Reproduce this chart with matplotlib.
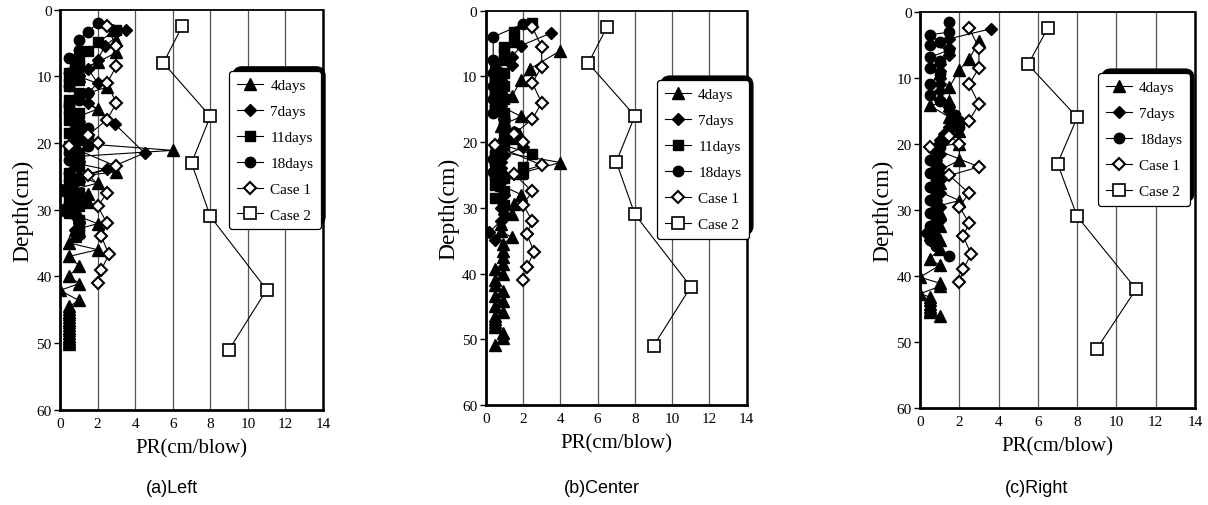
import numpy as np
import matplotlib
matplotlib.use("Agg")
import matplotlib.pyplot as plt
from matplotlib.patches import FancyBboxPatch
from matplotlib.transforms import IdentityTransform

plt.rcParams['font.family'] = ['Liberation Serif', 'DejaVu Serif']

# shared reference curves
case1_pr = [2.5, 3, 3, 2.5, 3, 2.5, 1.5, 2, 0.5, 3, 1.5, 2.5, 2, 2.5, 2.2, 2.6, 2.2, 2]
case1_d = [2.5, 5.5, 8.5, 11, 14, 16.5, 18.8, 20, 20.5, 23.5, 24.8, 27.5, 29.5, 32, 34, 36.7, 39, 41]
case2_pr = [6.5, 5.5, 8, 7, 8, 11, 9]
case2_d = [2.5, 8, 16, 23, 31, 42, 51]

# (a) Left
a_4d_pr = [2.8, 3, 3, 2, 1, 1, 2.5, 1, 2, 1, 0.8, 1, 0.8, 0.8, 6, 1, 0.8, 3, 1, 2, 0.7, 1.5, 1.5, 0.8,
           1, 2, 0.8, 0.8, 0.5, 2, 0.5, 1, 0.5, 1, 0, 1, 0.5, 0.5, 0.5, 0.5, 0.5, 0.5, 0.5, 0.5, 0.5,
           0.5, 0.5, 0.5, 0.5, 0.5, 0.5, 0.5]
a_4d_d = [3, 4.5, 6.4, 7.9, 9, 10, 11.6, 13, 14.9, 16, 17, 18, 19, 20, 21.1, 22, 23, 24.3, 25, 26, 27,
          27.6, 28.9, 30, 31, 32.1, 33, 34, 35, 36, 37, 38.4, 39.9, 41.1, 42.1, 43.6, 44.5, 44.9,
          45.3, 45.7, 46.1, 46.5, 46.9, 47.3, 47.7, 48.1, 48.5, 48.9, 49.3, 49.6, 49.8, 50.1]
a_7d_pr = [3.5, 2.4, 2, 1.5, 2, 1.5, 1.5, 2.9, 4.5, 2.5, 1, 0.8, 0.1, 0.8, 1, 0.1, 0.8, 1, 0.8, 1]
a_7d_d = [3, 5.4, 7.5, 8.9, 11, 12.5, 14, 17.1, 21.5, 23.9, 25, 26, 27, 28, 29, 30, 31, 32, 33, 34]
a_11d_pr = [3, 2, 1.5, 1, 1, 0.5, 1, 0.5, 1, 0.5, 0.5, 1, 0.5, 1, 0.5, 1, 0.5, 1, 1, 1, 0.5, 1, 0.5,
            1, 0.5, 1, 0.5, 1, 1, 1]
a_11d_d = [3, 4.9, 6.2, 7.4, 8.5, 9.5, 10.5, 11.5, 12.5, 13.5, 14.5, 15.5, 16.5, 17.5, 18.5, 19.5,
           20.5, 21.5, 22.5, 23.5, 24.5, 25.5, 26.5, 27.5, 28.5, 29.5, 30.5, 31.5, 32.5, 33.5]
a_18d_pr = [2, 1.5, 1, 1, 0.5, 0.8, 0.5, 0.5, 0.5, 1.5, 1, 0.5, 0.5, 0.8, 1.5, 1.5, 1.5, 0.5, 0.5,
            0.8, 0.5, 0.5, 0.1, 0.5, 0.5, 0.1]
a_18d_d = [2, 3.3, 4.5, 6, 7.3, 8.5, 9.5, 10.5, 11.5, 12.5, 13.5, 14.5, 15.5, 16.5, 17.7, 19, 20.5,
           21.5, 22.5, 23.5, 24.5, 25.5, 27, 28, 29, 30]

# (b) Center
b_4d_pr = [4, 2.4, 1.9, 1.4, 0.8, 1.9, 0.8, 1.8, 0.8, 0.8, 4, 1.9, 0.8, 1.9, 1.5, 1.4, 0.8, 0.8, 1.4,
           0.9, 0.9, 0.9, 0.9, 0.5, 0.9, 0.5, 0.5, 0.9, 0.5, 0.9, 0.5, 0.9, 0.5, 0.5, 0.5, 0.5, 0.5,
           0.9, 0.9, 0.5]
b_4d_d = [6.1, 8.8, 10.6, 13, 14.5, 16.1, 17.5, 18.8, 20, 21.5, 23.1, 24.7, 26.5, 28, 29.4, 31, 32.5,
          33.5, 34.5, 35.5, 36.5, 37.5, 38.5, 39.3, 40.1, 41, 41.8, 42.6, 43.4, 44.2, 45, 45.8, 46.4,
          46.9, 47.4, 47.8, 48.2, 49, 49.8, 50.8]
b_7d_pr = [3.5, 1.9, 1.4, 1.4, 0.8, 0.8, 0.8, 0.8, 0.5, 0.8, 0.8, 1, 1, 1.5, 1, 2, 1, 0.8, 0.8, 1,
           0.8, 0.8, 1, 0.8, 0.8, 1, 0.8, 0.2, 0.5]
b_7d_d = [3.4, 5.3, 7.1, 8.3, 9.5, 10.5, 11.5, 12.5, 13.5, 14.5, 15.5, 16.5, 17.5, 18.5, 19.5, 20.8,
          22, 23, 24, 25, 26, 27, 28, 29, 30, 31, 32, 33.7, 34.9]
b_11d_pr = [2.5, 1.5, 1.5, 1, 1, 1, 0.5, 1, 0.5, 1, 0.5, 1, 0.5, 1, 1, 1, 1, 1.5, 1, 2.5, 2, 2, 1,
            0.5, 1, 0.5, 1]
b_11d_d = [1.8, 3.3, 4.8, 5.5, 6.5, 7.5, 8.5, 9.5, 10.5, 11.5, 12.5, 13.5, 14.5, 15.5, 16.5, 17.5,
           18.5, 19.5, 20.5, 21.8, 23.8, 24.7, 25.5, 26.5, 27.5, 28.5, 29.5]
b_18d_pr = [2, 0.4, 0.4, 0.4, 0.5, 0.4, 0.5, 0.4, 0.5, 0.4, 1, 1, 1.5, 1, 0.5, 0.5, 0.4, 0.5, 0.4, 0.5]
b_18d_d = [2, 4, 7.5, 9.5, 10.5, 11.5, 12.5, 13.5, 14.5, 15.5, 16.5, 17.5, 18.5, 19.5, 20.5, 21.5,
           22.5, 23.5, 24.5, 25.5]

# (c) Right
c_4d_pr = [3, 2.5, 2, 1.5, 1.5, 0.5, 1.5, 2, 2, 2, 1, 0.8, 1, 0.8, 2, 0.8, 1, 0.8, 1, 0.8, 1, 1, 0.5,
           1, 0, 1, 1, 0, 0.5, 0.5, 0.5, 0.5, 0.5, 0.5, 1]
c_4d_d = [4.4, 7.2, 8.8, 11.4, 13.6, 14.2, 16, 18, 20, 22.5, 24, 25, 26, 27, 28.6, 29.5, 30.5, 31.5,
          32.5, 33.5, 34.5, 35.9, 37.4, 38.4, 40.2, 41.1, 41.6, 42.7, 43.2, 43.7, 44.2, 44.7, 45.1,
          45.5, 46.1]
c_7d_pr = [3.6, 1.5, 1.5, 1.5, 1, 1, 1, 1, 1, 1, 1.5, 1.8, 1.5, 1.2, 1, 0.8, 1, 0.8, 1, 0.8, 1, 0.8,
           1, 0.8, 1, 0.8, 1, 0.8, 0.3, 0.5]
c_7d_d = [2.6, 4.1, 5.5, 6.5, 8, 9, 10, 11, 12, 13.4, 15, 16.5, 17.5, 18.5, 19.5, 20.5, 21.5, 22.5,
          23.5, 24.5, 25.5, 26.5, 27.5, 28.5, 29.5, 30.5, 31.5, 32.5, 33.5, 34.5]
c_18d_pr = [1.5, 1.5, 0.5, 1, 0.5, 1.5, 0.5, 1, 0.5, 1, 0.5, 0.5, 1, 1.5, 1.8, 2, 2, 1.5, 1.2, 1, 0.8,
            0.5, 0.8, 0.5, 0.8, 0.5, 0.8, 0.5, 0.8, 0.5, 0.8, 0.5, 0.5, 0.5, 0.8, 1.5]
c_18d_d = [1.6, 3.1, 3.5, 4.6, 5, 5.8, 6.9, 7.5, 8.6, 9.5, 11, 12.6, 13.5, 14.5, 15.6, 16.5, 17.5,
           18.5, 19.5, 20.5, 21.5, 22.5, 23.5, 24.5, 25.5, 26.5, 27.5, 28.5, 29.5, 30.5, 31.5, 32.5,
           33.5, 34.5, 35.5, 37]

styles = {
    '4days': dict(marker='^', ms=9, mfc='black', mec='black'),
    '7days': dict(marker='D', ms=6.5, mfc='black', mec='black'),
    '11days': dict(marker='s', ms=7.5, mfc='black', mec='black'),
    '18days': dict(marker='o', ms=7.5, mfc='black', mec='black'),
    'Case 1': dict(marker='D', ms=6.5, mfc='white', mec='black', mew=1.5),
    'Case 2': dict(marker='s', ms=8, mfc='white', mec='black', mew=1.2),
}

panels = [
    dict(rect=[0.0497, 0.1883, 0.2177, 0.7906], caption='(a)Left', cx=172 / 1208,
         leg=(0.643, 0.847),
         series=[('4days', a_4d_pr, a_4d_d), ('7days', a_7d_pr, a_7d_d),
                 ('11days', a_11d_pr, a_11d_d), ('18days', a_18d_pr, a_18d_d)]),
    dict(rect=[0.4021, 0.1976, 0.2161, 0.7793], caption='(b)Center', cx=602 / 1208,
         leg=(0.656, 0.824),
         series=[('4days', b_4d_pr, b_4d_d), ('7days', b_7d_pr, b_7d_d),
                 ('11days', b_11d_pr, b_11d_d), ('18days', b_18d_pr, b_18d_d)]),
    dict(rect=[0.7616, 0.1917, 0.2277, 0.7833], caption='(c)Right', cx=1037 / 1208,
         leg=(0.647, 0.845),
         series=[('4days', c_4d_pr, c_4d_d), ('7days', c_7d_pr, c_7d_d),
                 ('18days', c_18d_pr, c_18d_d)]),
]

fig = plt.figure(figsize=(12.08, 5.06), dpi=100)
legends = []
for p in panels:
    ax = fig.add_axes(p['rect'])
    for name, pr, d in p['series'] + [('Case 1', case1_pr, case1_d), ('Case 2', case2_pr, case2_d)]:
        ax.plot(pr, d, color='black', lw=0.8, label=name, **styles[name])
    ax.set_xlim(0, 14)
    ax.set_ylim(60, 0)
    ax.set_xticks(np.arange(0, 15, 2))
    ax.set_yticks(np.arange(0, 61, 10))
    ax.xaxis.grid(True, color='#555555', lw=0.9)
    ax.tick_params(axis='y', direction='out', length=4, width=1, labelsize=11, pad=2)
    ax.tick_params(axis='x', direction='out', length=0, labelsize=11, pad=5)
    for side, w in [('left', 2), ('bottom', 2), ('top', 1.3), ('right', 1.8)]:
        ax.spines[side].set_linewidth(w)
    ax.set_xlabel('PR(cm/blow)', fontsize=15, labelpad=6)
    ax.set_ylabel('Depth(cm)', fontsize=17, labelpad=2)
    leg = ax.legend(loc='upper left', bbox_to_anchor=p['leg'], borderaxespad=0, fontsize=11,
                    frameon=True, fancybox=True, framealpha=1, edgecolor='black',
                    labelspacing=0.8, handlelength=1.7, borderpad=0.5, handletextpad=0.5)
    leg.get_frame().set_linewidth(0.9)
    leg.set_zorder(6)
    legends.append((ax, leg))
    fig.text(p['cx'], 0.035, p['caption'], ha='center', va='center', fontsize=13,
             family=['Liberation Sans', 'DejaVu Sans'])

# thick offset shadow on top/right of each legend
fig.canvas.draw()
r = fig.canvas.get_renderer()
for ax, leg in legends:
    bb = leg.get_frame().get_window_extent(r)
    sh = FancyBboxPatch((bb.x0 + 4, bb.y0 + 4), bb.width, bb.height,
                        boxstyle='round,pad=0,rounding_size=9', fc='black', ec='black',
                        transform=IdentityTransform(), clip_on=False, zorder=5.5)
    ax.add_patch(sh)

fig.savefig('out.png', dpi=100)
